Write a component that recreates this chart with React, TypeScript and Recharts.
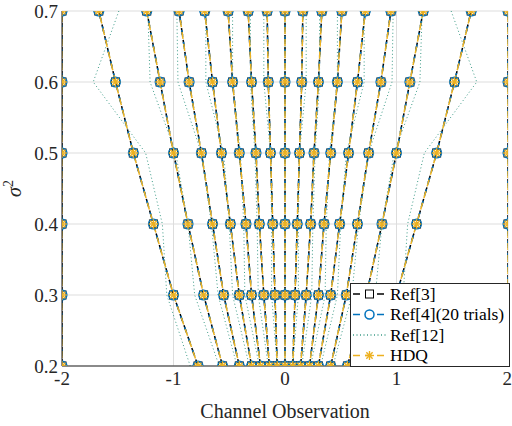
import { LineChart, Line, XAxis, YAxis, CartesianGrid, Legend } from 'recharts';

// noise variance levels (one point per level on every threshold line)
const sigma2 = [0.2, 0.3, 0.4, 0.5, 0.6, 0.7];
const xTicks = [-2, -1, 0, 1, 2];
const yTicks = [0.2, 0.3, 0.4, 0.5, 0.6, 0.7];

// quantizer boundaries, one array per sigma^2 level
// (Ref[3], Ref[4] and HDQ sit on top of each other)
const hdq02 = [-2, -0.78, -0.56, -0.41, -0.3, -0.22, -0.14, -0.07, 0, 0.07, 0.14, 0.22, 0.3, 0.41, 0.56, 0.78, 2];
const hdq03 = [-2, -1.0, -0.73, -0.55, -0.41, -0.3, -0.19, -0.09, 0, 0.09, 0.19, 0.3, 0.41, 0.55, 0.73, 1.0, 2];
const hdq04 = [-2, -1.18, -0.87, -0.65, -0.49, -0.35, -0.23, -0.11, 0, 0.11, 0.23, 0.35, 0.49, 0.65, 0.87, 1.18, 2];
const hdq05 = [-2, -1.36, -1.0, -0.75, -0.57, -0.41, -0.26, -0.13, 0, 0.13, 0.26, 0.41, 0.57, 0.75, 1.0, 1.36, 2];
const hdq06 = [-2, -1.52, -1.12, -0.86, -0.65, -0.47, -0.3, -0.15, 0, 0.15, 0.3, 0.47, 0.65, 0.86, 1.12, 1.52, 2];
const hdq07 = [-2, -1.67, -1.24, -0.95, -0.72, -0.51, -0.33, -0.16, 0, 0.16, 0.33, 0.51, 0.72, 0.95, 1.24, 1.67, 2];

// Ref[12] (dotted) boundaries
const ref12_02 = [-0.85, -0.59, -0.43, -0.32, -0.23, -0.15, -0.07, 0, 0.07, 0.15, 0.23, 0.32, 0.43, 0.59, 0.85];
const ref12_03 = [-1.06, -0.81, -0.6, -0.47, -0.36, -0.24, -0.12, 0, 0.12, 0.24, 0.36, 0.47, 0.6, 0.81, 1.06];
const ref12_04 = [-1.1, -0.87, -0.66, -0.5, -0.37, -0.25, -0.12, 0, 0.12, 0.25, 0.37, 0.5, 0.66, 0.87, 1.1];
const ref12_05 = [-1.25, -0.98, -0.75, -0.55, -0.4, -0.27, -0.13, 0, 0.13, 0.27, 0.4, 0.55, 0.75, 0.98, 1.25];
const ref12_06 = [-1.72, -1.21, -0.96, -0.71, -0.47, -0.31, -0.19, 0, 0.19, 0.31, 0.47, 0.71, 0.96, 1.21, 1.72];
const ref12_07 = [-1.49, -1.23, -0.97, -0.71, -0.47, -0.31, -0.19, 0, 0.19, 0.31, 0.47, 0.71, 0.97, 1.23, 1.49];

const legendLabels = ['Ref[3]', 'Ref[4](20 trials)', 'Ref[12]', 'HDQ'];

const hdqLevels = [hdq02, hdq03, hdq04, hdq05, hdq06, hdq07];
const ref12Levels = [ref12_02, ref12_03, ref12_04, ref12_05, ref12_06, ref12_07];

// turn the per-level arrays into one line per boundary
const toLines = (levels: number[][]) =>
  levels[0].map((_, i) => sigma2.map((s, k) => ({ x: levels[k][i], y: s })));

const hdqLines = toLines(hdqLevels);
const ref12Lines = toLines(ref12Levels);

const BLUE = '#0072BD';
const YELLOW = '#EDB120';
const TEAL = '#3E9C88';
const FONT = "'Liberation Serif', 'Times New Roman', serif";

const squareDot = (p: any) => (
  <rect key={`sq${p.index}`} x={p.cx - 4} y={p.cy - 4} width={8} height={8} fill="none" stroke="#000" strokeWidth={1} />
);
const circleDot = (p: any) => (
  <circle key={`ci${p.index}`} cx={p.cx} cy={p.cy} r={4.8} fill="none" stroke={BLUE} strokeWidth={1.5} />
);
const Star = ({ cx, cy, r = 4.8 }: any) => {
  const d = r * 0.7;
  return (
    <g stroke={YELLOW} strokeWidth={1.4}>
      <line x1={cx - r} y1={cy} x2={cx + r} y2={cy} />
      <line x1={cx} y1={cy - r} x2={cx} y2={cy + r} />
      <line x1={cx - d} y1={cy - d} x2={cx + d} y2={cy + d} />
      <line x1={cx - d} y1={cy + d} x2={cx + d} y2={cy - d} />
    </g>
  );
};
const starDot = (p: any) => <Star key={`st${p.index}`} cx={p.cx} cy={p.cy} />;

const renderLegend = () => (
  <div style={{ background: '#fff', border: '1px solid #262626', width: 158, height: 82, fontFamily: FONT, fontSize: 17, color: '#000' }}>
    <svg width={158} height={82} style={{ fontFamily: FONT }}>
      {legendLabels.map((label, i) => {
        const y = 10 + i * 20.5;
        const colors = ['#000', BLUE, TEAL, YELLOW];
        return (
          <g key={label}>
            <line x1={2} y1={y} x2={35} y2={y} stroke={colors[i]} strokeWidth={1.5}
              strokeDasharray={i === 2 ? '1 2.5' : '7 5'} />
            {i === 0 && <rect x={14.5} y={y - 4} width={8} height={8} fill="#fff" stroke="#000" />}
            {i === 1 && <circle cx={18.5} cy={y} r={4.5} fill="#fff" stroke={BLUE} strokeWidth={1.5} />}
            {i === 3 && <Star cx={18.5} cy={y} r={4.5} />}
            <text x={39} y={y + 5.5} style={{ fontFamily: FONT, fontSize: 17.5 }} fill="#000">{label}</text>
          </g>
        );
      })}
    </svg>
  </div>
);

const SigmaLabel = (props: any) => {
  const { viewBox } = props;
  const cx = 21;
  const cy = viewBox.y + viewBox.height / 2;
  return (
    <text transform={`translate(${cx},${cy}) rotate(-90)`} textAnchor="middle" style={{ fontFamily: FONT, fontSize: 20 }} fill="#262626">
      <tspan fontStyle="italic">σ</tspan>
      <tspan dy={-8} style={{ fontSize: 14 }}>2</tspan>
    </text>
  );
};

const tickStyle = { fontFamily: FONT, fontSize: 19, fill: '#262626', style: { fontFamily: FONT } };

export default function App() {
  return (
    <div style={{ position: 'absolute', left: 0, top: 0, width: 512, height: 426, background: '#fff', fontFamily: FONT }}>
      <LineChart width={512} height={426} margin={{ top: 11, right: 4, bottom: 0, left: 0 }} style={{ fontFamily: FONT }}>
        <CartesianGrid stroke="#dddddd" strokeWidth={1} />
        <XAxis
          type="number"
          dataKey="x"
          domain={[-2, 2]}
          ticks={xTicks}
          allowDataOverflow
          height={60}
          tickLine={false}
          tickSize={3}
          tickMargin={3}
          stroke="#262626"
          tick={tickStyle}
          label={{ value: 'Channel Observation', position: 'insideBottom', offset: 8, fontSize: 20, fill: '#262626', style: { fontFamily: FONT } }}
        />
        <YAxis
          type="number"
          dataKey="y"
          domain={[0.2, 0.7]}
          ticks={yTicks}
          allowDataOverflow
          width={62}
          tickLine={false}
          tickSize={3}
          tickMargin={1}
          stroke="#262626"
          tickFormatter={(v: number) => v.toFixed(1)}
          tick={tickStyle}
          label={<SigmaLabel />}
        />
        {hdqLines.map((d, i) => (
          <Line key={`r3-${i}`} data={d} dataKey="y" type="linear" stroke="#000" strokeWidth={1.5}
            strokeDasharray="7 5" dot={squareDot} activeDot={false} isAnimationActive={false} />
        ))}
        {hdqLines.map((d, i) => (
          <Line key={`r4-${i}`} data={d} dataKey="y" type="linear" stroke={BLUE} strokeWidth={1.5}
            strokeDasharray="7 5" strokeDashoffset={2} dot={circleDot} activeDot={false} isAnimationActive={false} />
        ))}
        {ref12Lines.map((d, i) => (
          <Line key={`r12-${i}`} data={d} dataKey="y" type="linear" stroke={TEAL} strokeWidth={1}
            strokeDasharray="1 2.5" dot={false} activeDot={false} isAnimationActive={false} />
        ))}
        {hdqLines.map((d, i) => (
          <Line key={`hdq-${i}`} data={d} dataKey="y" type="linear" stroke={YELLOW} strokeWidth={1.5}
            strokeDasharray="7 5" strokeDashoffset={4} dot={starDot} activeDot={false} isAnimationActive={false} />
        ))}
        <Legend
          layout="vertical"
          align="center"
          verticalAlign="middle"
          content={renderLegend}
          wrapperStyle={{ left: 350, top: 283, width: 160, height: 84 }}
        />
      </LineChart>
    </div>
  );
}
